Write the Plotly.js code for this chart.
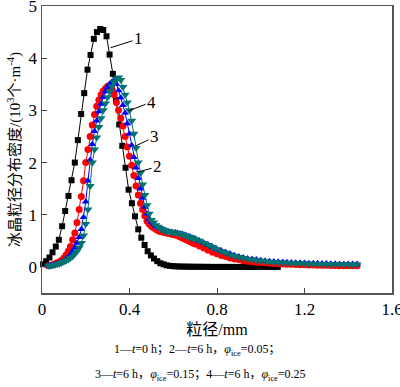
<!DOCTYPE html>
<html>
<head>
<meta charset="utf-8">
<script src="https://cdn.plot.ly/plotly-3.0.1.min.js"></script>
<style>html,body{margin:0;padding:0;background:#fff;}#chart{width:400px;height:387px;}</style>
</head>
<body>
<div id="chart"></div>
<script>
// Series 1: t = 0 h
const x1 = [0.005,0.019,0.034,0.048,0.063,0.077,0.092,0.106,0.121,0.135,0.150,0.164,0.179,0.193,0.208,0.222,0.237,0.251,0.266,0.280,0.295,0.309,0.324,0.338,0.353,0.367,0.382,0.396,0.411,0.425,0.440,0.454,0.469,0.483,0.498,0.512,0.527,0.541,0.556,0.570,0.585,0.599,0.614,0.628,0.643,0.657,0.672,0.686,0.701,0.715,0.730,0.744,0.759,0.773,0.788,0.802,0.817,0.831,0.846,0.860,0.875,0.889,0.904,0.918,0.933,0.947,0.962,0.976,0.991,1.005,1.020,1.034,1.049,1.063,1.078];
const y1 = [0.05,0.11,0.18,0.28,0.39,0.52,0.78,1.07,1.36,1.66,2.0,2.43,2.93,3.33,3.78,4.06,4.37,4.5,4.56,4.54,4.42,4.07,3.7,3.2,2.73,2.32,1.9,1.48,1.22,0.97,0.72,0.56,0.42,0.3,0.22,0.16,0.11,0.07,0.05,0.03,0.02,0.015,0.01,0.008,0.006,0.005,0.004,0.003,0.003,0.002,0.002,0.001,0.001,0,0,0,0,0,0,0,0,0,0,0,0,0,0,0,0,0,0,0,0,0,0];

// Series 2-4 share particle-size positions
const xs = [0.03,0.04,0.05,0.06,0.07,0.08,0.09,0.10,0.11,0.12,0.13,0.14,0.15,0.16,0.17,0.18,0.19,0.20,0.21,0.22,0.23,0.24,0.25,0.26,0.27,0.28,0.29,0.30,0.31,0.32,0.33,0.34,0.35,0.36,0.37,0.38,0.39,0.40,0.41,0.42,0.43,0.44,0.45,0.46,0.47,0.48,0.49,0.50,0.51,0.52,0.53,0.54,0.55,0.56,0.57,0.58,0.59,0.60,0.61,0.62,0.63,0.64,0.65,0.66,0.67,0.68,0.69,0.70,0.72,0.74,0.76,0.78,0.80,0.82,0.84,0.86,0.88,0.90,0.92,0.94,0.96,0.98,1.00,1.02,1.04,1.06,1.08,1.10,1.12,1.14,1.16,1.18,1.20,1.22,1.24,1.26,1.28,1.30,1.32,1.34,1.36,1.38,1.40,1.42,1.44];
// Series 2: t = 6 h, phi = 0.05
const y2 = [0.02,0.03,0.04,0.06,0.08,0.10,0.13,0.17,0.23,0.30,0.39,0.52,0.65,0.85,1.10,1.35,1.65,2.00,2.25,2.50,2.72,2.92,3.08,3.20,3.30,3.37,3.42,3.46,3.47,3.40,3.30,3.15,3.00,2.85,2.70,2.50,2.30,2.12,1.95,1.75,1.55,1.38,1.22,1.10,0.98,0.88,0.82,0.78,0.75,0.72,0.70,0.68,0.67,0.66,0.65,0.64,0.63,0.62,0.61,0.60,0.58,0.56,0.54,0.52,0.50,0.48,0.46,0.44,0.40,0.36,0.32,0.28,0.25,0.22,0.20,0.17,0.15,0.14,0.12,0.11,0.10,0.09,0.085,0.08,0.07,0.065,0.06,0.055,0.05,0.05,0.045,0.04,0.04,0.035,0.035,0.03,0.03,0.03,0.025,0.025,0.02,0.02,0.02,0.02,0.02];
// Series 3: t = 6 h, phi = 0.15
const y3 = [0.02,0.02,0.03,0.05,0.06,0.08,0.10,0.12,0.15,0.19,0.24,0.30,0.37,0.46,0.57,0.72,0.95,1.25,1.65,2.05,2.35,2.60,2.80,2.98,3.12,3.25,3.36,3.45,3.51,3.55,3.56,3.50,3.38,3.24,3.10,2.95,2.75,2.55,2.33,2.10,1.90,1.70,1.50,1.32,1.15,1.02,0.92,0.86,0.82,0.78,0.76,0.74,0.72,0.70,0.69,0.68,0.67,0.66,0.66,0.65,0.64,0.63,0.61,0.60,0.58,0.57,0.55,0.54,0.50,0.46,0.42,0.38,0.34,0.31,0.28,0.25,0.22,0.20,0.18,0.16,0.15,0.14,0.13,0.12,0.11,0.105,0.10,0.095,0.09,0.085,0.08,0.078,0.075,0.072,0.07,0.068,0.066,0.064,0.062,0.06,0.058,0.057,0.056,0.055,0.054];
// Series 4: t = 6 h, phi = 0.25
const y4 = [0.02,0.02,0.03,0.04,0.05,0.06,0.08,0.10,0.12,0.14,0.17,0.20,0.25,0.30,0.37,0.46,0.60,0.82,1.10,1.55,2.00,2.25,2.48,2.68,2.85,3.00,3.13,3.25,3.36,3.46,3.54,3.60,3.63,3.58,3.45,3.30,3.15,3.00,2.80,2.55,2.28,2.00,1.80,1.58,1.38,1.18,1.02,0.90,0.85,0.80,0.77,0.74,0.72,0.70,0.69,0.68,0.67,0.66,0.65,0.65,0.64,0.62,0.61,0.60,0.58,0.57,0.55,0.53,0.50,0.46,0.42,0.38,0.34,0.30,0.27,0.24,0.21,0.19,0.17,0.15,0.14,0.13,0.12,0.11,0.10,0.095,0.09,0.085,0.08,0.075,0.07,0.068,0.065,0.062,0.06,0.058,0.056,0.055,0.053,0.052,0.05,0.05,0.048,0.047,0.045];

const xTicks = [0, 0.4, 0.8, 1.2, 1.6];
const yTicks = [0, 1, 2, 3, 4, 5];
const curveLabels = ['1', '2', '3', '4'];

const serif = '"Liberation Serif", "Times New Roman", "Noto Sans CJK SC", serif';

function tr(x, y, color, symbol, size) {
  return {
    x: x, y: y, type: 'scatter', mode: 'lines+markers',
    line: {color: color, width: 1},
    marker: {color: color, symbol: symbol, size: size, line: {width: 0}},
    showlegend: false, hoverinfo: 'skip', cliponaxis: false
  };
}

const data = [
  tr(x1, y1, '#000000', 'square', 6),
  tr(xs, y2, '#ff0000', 'circle', 7),
  tr(xs, y3, '#0000ff', 'triangle-up', 7),
  tr(xs, y4, '#007272', 'triangle-down', 8)
];

function lab(text, tipx, tipy, tx, ty) {
  return {x: tipx, y: tipy, ax: tx, ay: ty, axref: 'x', ayref: 'y', xref: 'x', yref: 'y',
    text: text, showarrow: true, arrowhead: 0, arrowwidth: 1, arrowcolor: '#000',
    font: {family: serif, size: 17, color: '#000'}, standoff: 0};
}

const layout = {
  width: 400, height: 387,
  margin: {l: 42, r: 8, t: 6, b: 94},
  paper_bgcolor: '#fff', plot_bgcolor: '#fff',
  font: {family: serif, color: '#000'},
  xaxis: {
    range: [0, 1.6], tickvals: xTicks, ticktext: xTicks.map(String),
    ticks: 'inside', ticklen: 5, tickcolor: '#444', showgrid: false, zeroline: false,
    showline: true, linecolor: '#555', linewidth: 1.5, mirror: true,
    ticklabeloverflow: 'allow',
    tickfont: {family: serif, size: 17, color: '#000'},
    title: {text: '粒径/mm', font: {family: serif, size: 16, color: '#000'}, standoff: 6}
  },
  yaxis: {
    range: [-0.5, 5], tickvals: yTicks, ticktext: yTicks.map(String),
    ticks: 'inside', ticklen: 5, tickcolor: '#444', showgrid: false, zeroline: false,
    showline: true, linecolor: '#555', linewidth: 1.5, mirror: true,
    ticklabeloverflow: 'allow',
    tickfont: {family: serif, size: 17, color: '#000'},
    title: {text: '冰晶粒径分布密度/(10<sup>3</sup>个·m<sup>-4</sup>)', font: {family: serif, size: 15, color: '#000'}, standoff: 4}
  },
  annotations: [
    lab(curveLabels[0], 0.313, 4.2, 0.441, 4.37),
    lab(curveLabels[1], 0.437, 1.82, 0.529, 1.92),
    lab(curveLabels[2], 0.428, 2.32, 0.515, 2.49),
    lab(curveLabels[3], 0.395, 2.99, 0.501, 3.16),
    {xref: 'paper', yref: 'paper', x: 0.443, y: -0.199, xanchor: 'center', yanchor: 'middle', showarrow: false,
     text: '1—<i>t</i>=0 h；2—<i>t</i>=6 h，<i>φ</i><sub>ice</sub>=0.05；', font: {family: serif, size: 12, color: '#000'}},
    {xref: 'paper', yref: 'paper', x: 0.454, y: -0.286, xanchor: 'center', yanchor: 'middle', showarrow: false,
     text: '3—<i>t</i>=6 h，<i>φ</i><sub>ice</sub>=0.15；4—<i>t</i>=6 h，<i>φ</i><sub>ice</sub>=0.25', font: {family: serif, size: 12, color: '#000'}}
  ]
};

Plotly.newPlot('chart', data, layout, {staticPlot: true, displayModeBar: false});
</script>
</body>
</html>
